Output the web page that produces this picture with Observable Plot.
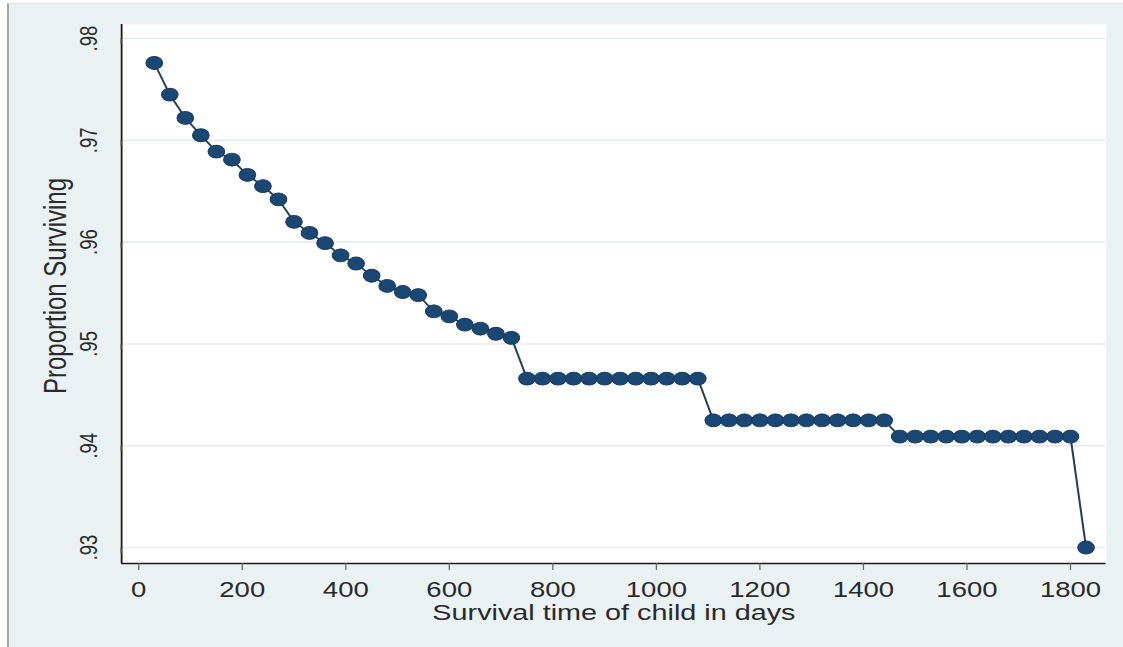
<!DOCTYPE html>
<html>
<head>
<meta charset="utf-8">
<script src="https://cdn.jsdelivr.net/npm/d3@7"></script>
<script src="https://cdn.jsdelivr.net/npm/@observablehq/plot@0.6"></script>
<style>
  html, body { margin: 0; padding: 0; background: #ffffff; }
  #wrap {
    position: absolute; left: 7px; top: 3px;
    width: 1116px; height: 644px;
    background: #eaf1f2;
    border-left: 2px solid #a3a7a8;
    border-top: 1px solid #dfe3e3;
    overflow: hidden;
  }
  #wrap svg { display: block; transform: scaleX(1.28); transform-origin: 0 0; }
</style>
</head>
<body>
<div id="wrap"></div>
<script>
// Survival time (days) at each plotted step
const days = [30, 60, 90, 120, 150, 180, 210, 240, 270, 300,
  330, 360, 390, 420, 450, 480, 510, 540, 570, 600,
  630, 660, 690, 720, 750, 780, 810, 840, 870, 900,
  930, 960, 990, 1020, 1050, 1080, 1110, 1140, 1170, 1200,
  1230, 1260, 1290, 1320, 1350, 1380, 1410, 1440, 1470, 1500,
  1530, 1560, 1590, 1620, 1650, 1680, 1710, 1740, 1770, 1800,
  1830];
// Proportion surviving
const survival = [0.9776, 0.9745, 0.9722, 0.9705, 0.9689, 0.9681, 0.9666, 0.9655, 0.9642, 0.9620,
  0.9609, 0.9599, 0.9587, 0.9579, 0.9567, 0.9557, 0.9551, 0.9548, 0.9532, 0.9527,
  0.9519, 0.9515, 0.9510, 0.9506, 0.9466, 0.9466, 0.9466, 0.9466, 0.9466, 0.9466,
  0.9466, 0.9466, 0.9466, 0.9466, 0.9466, 0.9466, 0.9425, 0.9425, 0.9425, 0.9425,
  0.9425, 0.9425, 0.9425, 0.9425, 0.9425, 0.9425, 0.9425, 0.9425, 0.9409, 0.9409,
  0.9409, 0.9409, 0.9409, 0.9409, 0.9409, 0.9409, 0.9409, 0.9409, 0.9409, 0.9409,
  0.9300];

const xTicks = [0, 200, 400, 600, 800, 1000, 1200, 1400, 1600, 1800];
const xTickLabels = ["0", "200", "400", "600", "800", "1000", "1200", "1400", "1600", "1800"];
const yTicks = [0.93, 0.94, 0.95, 0.96, 0.97, 0.98];
const yTickLabels = [".93", ".94", ".95", ".96", ".97", ".98"];
const xDomain = [-33, 1869];
const yDomain = [0.92843, 0.98138];
const xTitle = "Survival time of child in days";
const yTitle = "Proportion Surviving";

const data = days.map((d, i) => ({day: d, s: survival[i]}));

const navy = "#1a4773";

const chart = Plot.plot({
  width: 870,
  height: 643,
  marginLeft: 87.5,
  marginRight: 13.3,
  marginTop: 20,
  marginBottom: 84,
  style: {background: "transparent", color: "#222", fontFamily: "'Liberation Sans', Arial, Helvetica, sans-serif", overflow: "visible"},
  x: {domain: xDomain},
  y: {domain: yDomain},
  marks: [
    Plot.frame({fill: "white", stroke: "none"}),
    Plot.gridY(yTicks, {stroke: "#e5ecec", strokeOpacity: 1, strokeWidth: 1.6}),
    Plot.ruleX([xDomain[0]], {stroke: "#1a1a1a", strokeWidth: 1.4}),
    Plot.ruleY([yDomain[0]], {stroke: "#1a1a1a", strokeWidth: 1.4}),
    Plot.axisY(yTicks, {
      anchor: "left", tickSize: 5.5, tickPadding: 20, tickFormat: d => yTickLabels[yTicks.indexOf(d)],
      rotate: -90, textAnchor: "middle", lineAnchor: "middle",
      fontSize: 18.5, stroke: "#666", fill: "#2a2a2a", label: null
    }),
    Plot.axisX(xTicks, {
      anchor: "bottom", tickSize: 7, tickPadding: 11, tickFormat: d => xTickLabels[xTicks.indexOf(d)],
      fontSize: 21.5, stroke: "#666", fill: "#2a2a2a", label: null
    }),
    Plot.text([yTitle], {frameAnchor: "left", rotate: -90, dx: -51, dy: -8, fontSize: 24, fill: "#2a2a2a", textAnchor: "middle", lineAnchor: "middle"}),
    Plot.text([xTitle], {frameAnchor: "bottom", dy: 49, fontSize: 22.5, fill: "#2a2a2a", textAnchor: "middle", lineAnchor: "middle"}),
    Plot.line(data, {x: "day", y: "s", stroke: "#223f5c", strokeWidth: 1.6}),
    Plot.dot(data, {x: "day", y: "s", r: 6.5, fill: navy, stroke: "#153a5e", strokeWidth: 0.8})
  ]
});

document.getElementById("wrap").appendChild(chart);
</script>
</body>
</html>
